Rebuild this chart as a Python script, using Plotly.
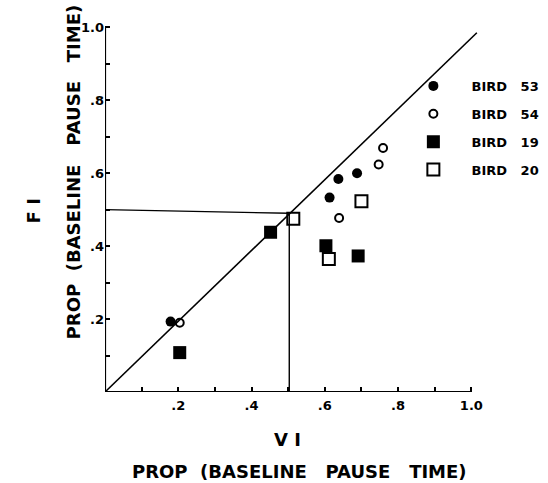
import plotly.graph_objects as go

# Data
bird53_x = [0.179, 0.613, 0.637, 0.688]
bird53_y = [0.193, 0.533, 0.584, 0.600]
bird54_x = [0.204, 0.639, 0.747, 0.759]
bird54_y = [0.190, 0.477, 0.624, 0.669]
bird19_x = [0.204, 0.452, 0.603, 0.691]
bird19_y = [0.108, 0.438, 0.401, 0.373]
bird20_x = [0.514, 0.611, 0.700]
bird20_y = [0.475, 0.365, 0.523]

diag_x = [0.0, 1.015]
diag_y = [0.0, 0.985]
ref_x = [0.0, 0.503, 0.503]
ref_y = [0.50, 0.49, 0.0]

tick_vals = [0.2, 0.4, 0.6, 0.8, 1.0]
tick_text = [".2", ".4", ".6", ".8", "1.0"]
minor_vals = [0.1, 0.3, 0.5, 0.7, 0.9]

FONT = "DejaVu Sans"
W, H = 548, 483
L, T = 104.5, 20
X_MAX, Y_MAX = 1.04, 1.02
PXU_X, PXU_Y = 366.5, 365.0
plot_w = X_MAX * PXU_X
plot_h = Y_MAX * PXU_Y
R = W - L - plot_w
B = H - T - plot_h


def px_x(p):
    return (p - L) / plot_w


def px_y(p):
    return (H - p - B) / plot_h


NB = "\u00a0"
fig = go.Figure()

# axes lines
fig.add_trace(go.Scatter(x=[0, 0, 1.0], y=[1.0, 0, 0], mode="lines",
                         line=dict(color="black", width=2.2), showlegend=False, hoverinfo="skip"))
fig.add_trace(go.Scatter(x=diag_x, y=diag_y, mode="lines", line=dict(color="black", width=1.6),
                         showlegend=False, hoverinfo="skip"))
fig.add_trace(go.Scatter(x=ref_x, y=ref_y, mode="lines", line=dict(color="black", width=1.4),
                         showlegend=False, hoverinfo="skip"))

pre = NB * 4
fig.add_trace(go.Scatter(x=bird53_x, y=bird53_y, mode="markers", name=f"{pre}BIRD{NB*3}53",
                         legendgroup="a",
                         marker=dict(symbol="circle", size=10, color="black")))
fig.add_trace(go.Scatter(x=bird54_x, y=bird54_y, mode="markers", name=f"{pre}BIRD{NB*3}54",
                         legendgroup="b",
                         marker=dict(symbol="circle-open", size=8, color="black", line=dict(width=2))))
fig.add_trace(go.Scatter(x=bird19_x, y=bird19_y, mode="markers", name=f"{pre}BIRD{NB*3}19",
                         legendgroup="c",
                         marker=dict(symbol="square", size=13, color="black")))
fig.add_trace(go.Scatter(x=bird20_x, y=bird20_y, mode="markers", name=f"{pre}BIRD{NB*3}20",
                         legendgroup="d",
                         marker=dict(symbol="square-open", size=12, color="black", line=dict(width=2))))

axis_common = dict(
    showgrid=False, zeroline=False, showline=False,
    tickmode="array", tickvals=tick_vals, ticktext=tick_text,
    ticks="inside", ticklen=5, tickwidth=1.6, tickcolor="black",
    tickfont=dict(family=FONT, size=13, color="black", weight="bold"),
    minor=dict(tickmode="array", tickvals=minor_vals, ticks="inside", ticklen=5,
               tickwidth=1.6, tickcolor="black"),
)

title_font = dict(family=FONT, size=18, color="black", weight="bold")
long_title = "PROP  (BASELINE   PAUSE   TIME)"

fig.update_layout(
    width=W, height=H,
    margin=dict(l=L, r=R, t=T, b=B, autoexpand=False),
    paper_bgcolor="white", plot_bgcolor="white",
    xaxis=dict(range=[0, X_MAX], ticklabelstandoff=4, automargin=False, **axis_common),
    yaxis=dict(range=[0, Y_MAX], automargin=False, **axis_common),
    showlegend=True,
    legend=dict(x=px_x(413), y=px_y(71), xanchor="left", yanchor="top",
                xref="paper", yref="paper",
                font=dict(family=FONT, size=13, color="black", weight="bold"),
                tracegroupgap=8, itemwidth=30, bgcolor="rgba(0,0,0,0)"),
    font=dict(family=FONT, color="black"),
    annotations=[
        dict(text="V I", x=px_x(287), y=px_y(440), xref="paper", yref="paper", showarrow=False,
             xanchor="center", yanchor="middle", font=title_font),
        dict(text=long_title, x=px_x(299), y=px_y(472), xref="paper", yref="paper",
             showarrow=False, xanchor="center", yanchor="middle", font=title_font),
        dict(text="F I", x=px_x(33), y=px_y(211), xref="paper", yref="paper", showarrow=False,
             xanchor="center", yanchor="middle", textangle=-90, font=title_font),
        dict(text=long_title, x=px_x(73), y=px_y(172), xref="paper", yref="paper",
             showarrow=False, xanchor="center", yanchor="middle", textangle=-90, font=title_font),
    ],
)

fig.write_html("out.html")
